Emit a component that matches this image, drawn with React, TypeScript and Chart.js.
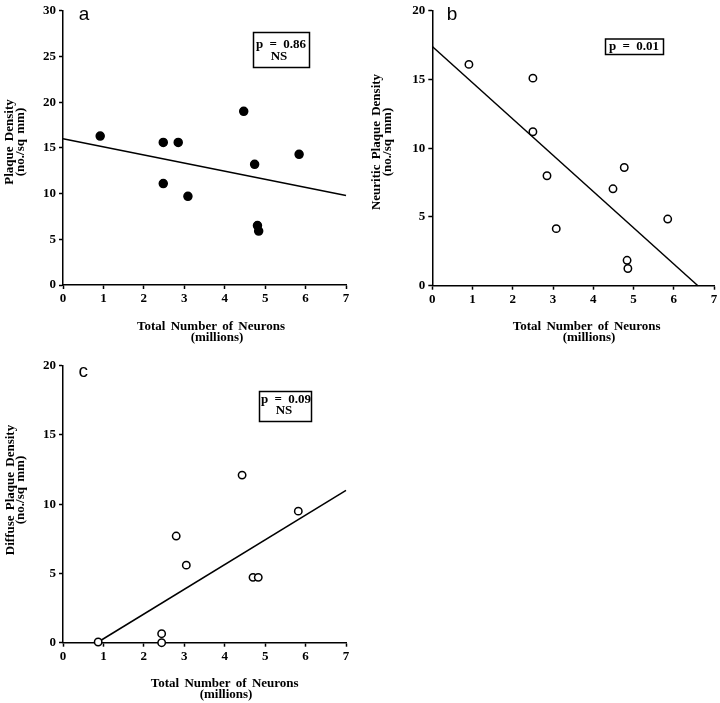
import React, { useEffect, useRef } from "react";
import { Chart, registerables } from "chart.js";

Chart.register(...registerables);

// ---------- data ----------
const X_TICKS = [0, 1, 2, 3, 4, 5, 6, 7];
const Y_TICKS_A = [0, 5, 10, 15, 20, 25, 30];
const Y_TICKS_BC = [0, 5, 10, 15, 20];

// Panel a: total plaque density (filled circles)
const neuronsA = [0.92, 2.48, 2.85, 2.48, 3.09, 4.47, 4.74, 4.81, 4.84, 5.84];
const plaqueA = [16.3, 15.6, 15.6, 11.1, 9.7, 19.0, 13.2, 6.5, 5.9, 14.3];
const fitXA = [0, 7];
const fitYA = [16.0, 9.8];

// Panel b: neuritic plaque density (open circles)
const neuronsB = [0.91, 2.5, 2.5, 2.85, 3.08, 4.49, 4.77, 5.85, 4.84, 4.86];
const plaqueB = [16.1, 15.1, 11.2, 8.0, 4.15, 7.05, 8.6, 4.85, 1.85, 1.25];
const fitXB = [0, 6.6];
const fitYB = [17.4, 0];

// Panel c: diffuse plaque density (open circles)
const neuronsC = [0.87, 2.44, 2.44, 2.8, 3.05, 4.43, 4.7, 4.83, 5.82];
const plaqueC = [0.05, 0.65, 0.0, 7.7, 5.6, 12.1, 4.72, 4.72, 9.5];
const fitXC = [0.87, 7];
const fitYC = [0.05, 11.0];

// ---------- overlay plugin (panel letters, axis titles, p-value boxes) ----------
type TextItem = {
  text: string;
  x: number;
  y: number;
  font: string;
  rotate?: boolean;
  spacing?: string;
};
type BoxItem = { x: number; y: number; w: number; h: number };

const overlayPlugin = {
  id: "overlay",
  afterDraw(chart: any, _args: any, opts: any) {
    const ctx: CanvasRenderingContext2D = chart.ctx;
    ctx.save();
    (opts.boxes || []).forEach((b: BoxItem) => {
      ctx.lineWidth = 1.5;
      ctx.strokeStyle = "#000";
      ctx.strokeRect(b.x, b.y, b.w, b.h);
    });
    (opts.texts || []).forEach((t: TextItem) => {
      ctx.save();
      ctx.font = t.font;
      ctx.fillStyle = "#000";
      ctx.textAlign = "center";
      ctx.textBaseline = "middle";
      (ctx as any).wordSpacing = t.spacing || "0px";
      ctx.translate(t.x, t.y);
      if (t.rotate) ctx.rotate(-Math.PI / 2);
      ctx.fillText(t.text, 0, 0);
      ctx.restore();
    });
    ctx.restore();
  },
};

const SERIF_B12 = "bold 12px 'Liberation Serif', 'Times New Roman', serif";
const SERIF_B13 = "bold 13px 'Liberation Serif', 'Times New Roman', serif";
const SANS_18 = "19px 'Liberation Sans', Arial, sans-serif";

type PanelCfg = {
  left: number;
  top: number;
  width: number;
  height: number;
  area: { left: number; right: number; top: number; bottom: number };
  xs: number[];
  ys: number[];
  fitX: number[];
  fitY: number[];
  yMax: number;
  yTicks: number[];
  filled: boolean;
  radius: number;
  texts: TextItem[];
  boxes: BoxItem[];
};

const panels: PanelCfg[] = [
  {
    left: 0,
    top: 0,
    width: 360,
    height: 345,
    area: { left: 63, right: 346, top: 7.3, bottom: 285 },
    xs: neuronsA,
    ys: plaqueA,
    fitX: fitXA,
    fitY: fitYA,
    yMax: 30,
    yTicks: Y_TICKS_A,
    filled: true,
    radius: 4,
    texts: [
      { text: "a", x: 84, y: 15, font: SANS_18 },
      { text: "Plaque Density", x: 10, y: 142, font: SERIF_B13, rotate: true, spacing: "2px" },
      { text: "(no./sq mm)", x: 21, y: 142, font: SERIF_B13, rotate: true, spacing: "2px" },
      { text: "Total Number of Neurons", x: 211, y: 326.5, font: SERIF_B13, spacing: "2px" },
      { text: "(millions)", x: 217, y: 337.5, font: SERIF_B13 },
      { text: "p = 0.86", x: 281, y: 45, font: SERIF_B13, spacing: "3px" },
      { text: "NS", x: 279, y: 57, font: SERIF_B13 },
    ],
    boxes: [{ x: 253.5, y: 32.5, w: 56, h: 35 }],
  },
  {
    left: 360,
    top: 0,
    width: 360,
    height: 345,
    area: { left: 72.3, right: 354, top: 9, bottom: 285.7 },
    xs: neuronsB,
    ys: plaqueB,
    fitX: fitXB,
    fitY: fitYB,
    yMax: 20,
    yTicks: Y_TICKS_BC,
    filled: false,
    radius: 3.7,
    texts: [
      { text: "b", x: 92, y: 15, font: SANS_18 },
      { text: "Neuritic Plaque Density", x: 16.7, y: 142, font: SERIF_B13, rotate: true, spacing: "2px" },
      { text: "(no./sq mm)", x: 27.5, y: 142, font: SERIF_B13, rotate: true, spacing: "2px" },
      { text: "Total Number of Neurons", x: 226.7, y: 326.5, font: SERIF_B13, spacing: "2px" },
      { text: "(millions)", x: 229, y: 337.5, font: SERIF_B13 },
      { text: "p = 0.01", x: 274, y: 46.5, font: SERIF_B13, spacing: "3px" },
    ],
    boxes: [{ x: 245.5, y: 39, w: 58, h: 15.5 }],
  },
  {
    left: 0,
    top: 345,
    width: 360,
    height: 358,
    area: { left: 63, right: 346, top: 20.7, bottom: 297.7 },
    xs: neuronsC,
    ys: plaqueC,
    fitX: fitXC,
    fitY: fitYC,
    yMax: 20,
    yTicks: Y_TICKS_BC,
    filled: false,
    radius: 3.7,
    texts: [
      { text: "c", x: 83.3, y: 27, font: SANS_18 },
      { text: "Diffuse Plaque Density", x: 11, y: 145, font: SERIF_B13, rotate: true, spacing: "2px" },
      { text: "(no./sq mm)", x: 21, y: 145, font: SERIF_B13, rotate: true, spacing: "2px" },
      { text: "Total Number of Neurons", x: 224.7, y: 339, font: SERIF_B13, spacing: "2px" },
      { text: "(millions)", x: 226, y: 350, font: SERIF_B13 },
      { text: "p = 0.09", x: 286, y: 55, font: SERIF_B13, spacing: "3px" },
      { text: "NS", x: 284, y: 66, font: SERIF_B13 },
    ],
    boxes: [{ x: 259.5, y: 46.5, w: 52, h: 30 }],
  },
];

const TICK_FONT = { family: "'Liberation Serif', 'Times New Roman', serif", weight: "bold" as const, size: 13 };

function Panel({ cfg }: { cfg: PanelCfg }) {
  const ref = useRef<HTMLCanvasElement>(null);
  useEffect(() => {
    const canvas = ref.current;
    if (!canvas) return;
    const axisCommon = {
      grid: {
        display: true,
        drawOnChartArea: false,
        drawTicks: true,
        tickLength: 4,
        tickColor: "#000",
        tickWidth: 1.5,
        color: "#000",
      },
      border: { display: true, color: "#000", width: 1.5 },
    };
    const chart = new Chart(canvas, {
      type: "scatter",
      data: {
        datasets: [
          {
            data: cfg.xs.map((x, i) => ({ x, y: cfg.ys[i] })),
            pointRadius: cfg.radius,
            pointHoverRadius: cfg.radius,
            pointBackgroundColor: cfg.filled ? "#000" : "#fff",
            pointBorderColor: "#000",
            pointBorderWidth: 1.5,
            showLine: false,
            clip: false as any,
          },
          {
            data: cfg.fitX.map((x, i) => ({ x, y: cfg.fitY[i] })),
            showLine: true,
            borderColor: "#000",
            borderWidth: 1.5,
            pointRadius: 0,
            fill: false,
            clip: false as any,
          },
        ],
      },
      options: {
        responsive: false,
        animation: false,
        devicePixelRatio: 1,
        events: [],
        layout: {
          padding: {
            left: 0,
            top: cfg.area.top,
            right: cfg.width - cfg.area.right,
            bottom: 0,
          },
        },
        plugins: {
          legend: { display: false },
          tooltip: { enabled: false },
          // @ts-ignore
          overlay: { texts: cfg.texts, boxes: cfg.boxes },
        },
        scales: {
          x: {
            type: "linear",
            min: 0,
            max: 7,
            ...axisCommon,
            ticks: { color: "#000", font: TICK_FONT, padding: 2, maxRotation: 0 },
            afterBuildTicks: (s: any) => {
              s.ticks = X_TICKS.map((v) => ({ value: v }));
            },
            afterFit: (s: any) => {
              s.height = cfg.height - cfg.area.bottom;
            },
          },
          y: {
            type: "linear",
            min: 0,
            max: cfg.yMax,
            ...axisCommon,
            ticks: { color: "#000", font: TICK_FONT, padding: 3 },
            afterBuildTicks: (s: any) => {
              s.ticks = cfg.yTicks.map((v) => ({ value: v }));
            },
            afterFit: (s: any) => {
              s.width = cfg.area.left;
            },
          },
        },
      },
      plugins: [overlayPlugin as any],
    });
    return () => chart.destroy();
  }, [cfg]);
  return (
    <canvas
      ref={ref}
      width={cfg.width}
      height={cfg.height}
      style={{ position: "absolute", left: cfg.left, top: cfg.top, width: cfg.width, height: cfg.height }}
    />
  );
}

export default function App() {
  return (
    <div
      style={{
        position: "absolute",
        left: 0,
        top: 0,
        width: 720,
        height: 703,
        background: "#fff",
        overflow: "hidden",
      }}
    >
      {panels.map((p, i) => (
        <Panel key={i} cfg={p} />
      ))}
    </div>
  );
}
